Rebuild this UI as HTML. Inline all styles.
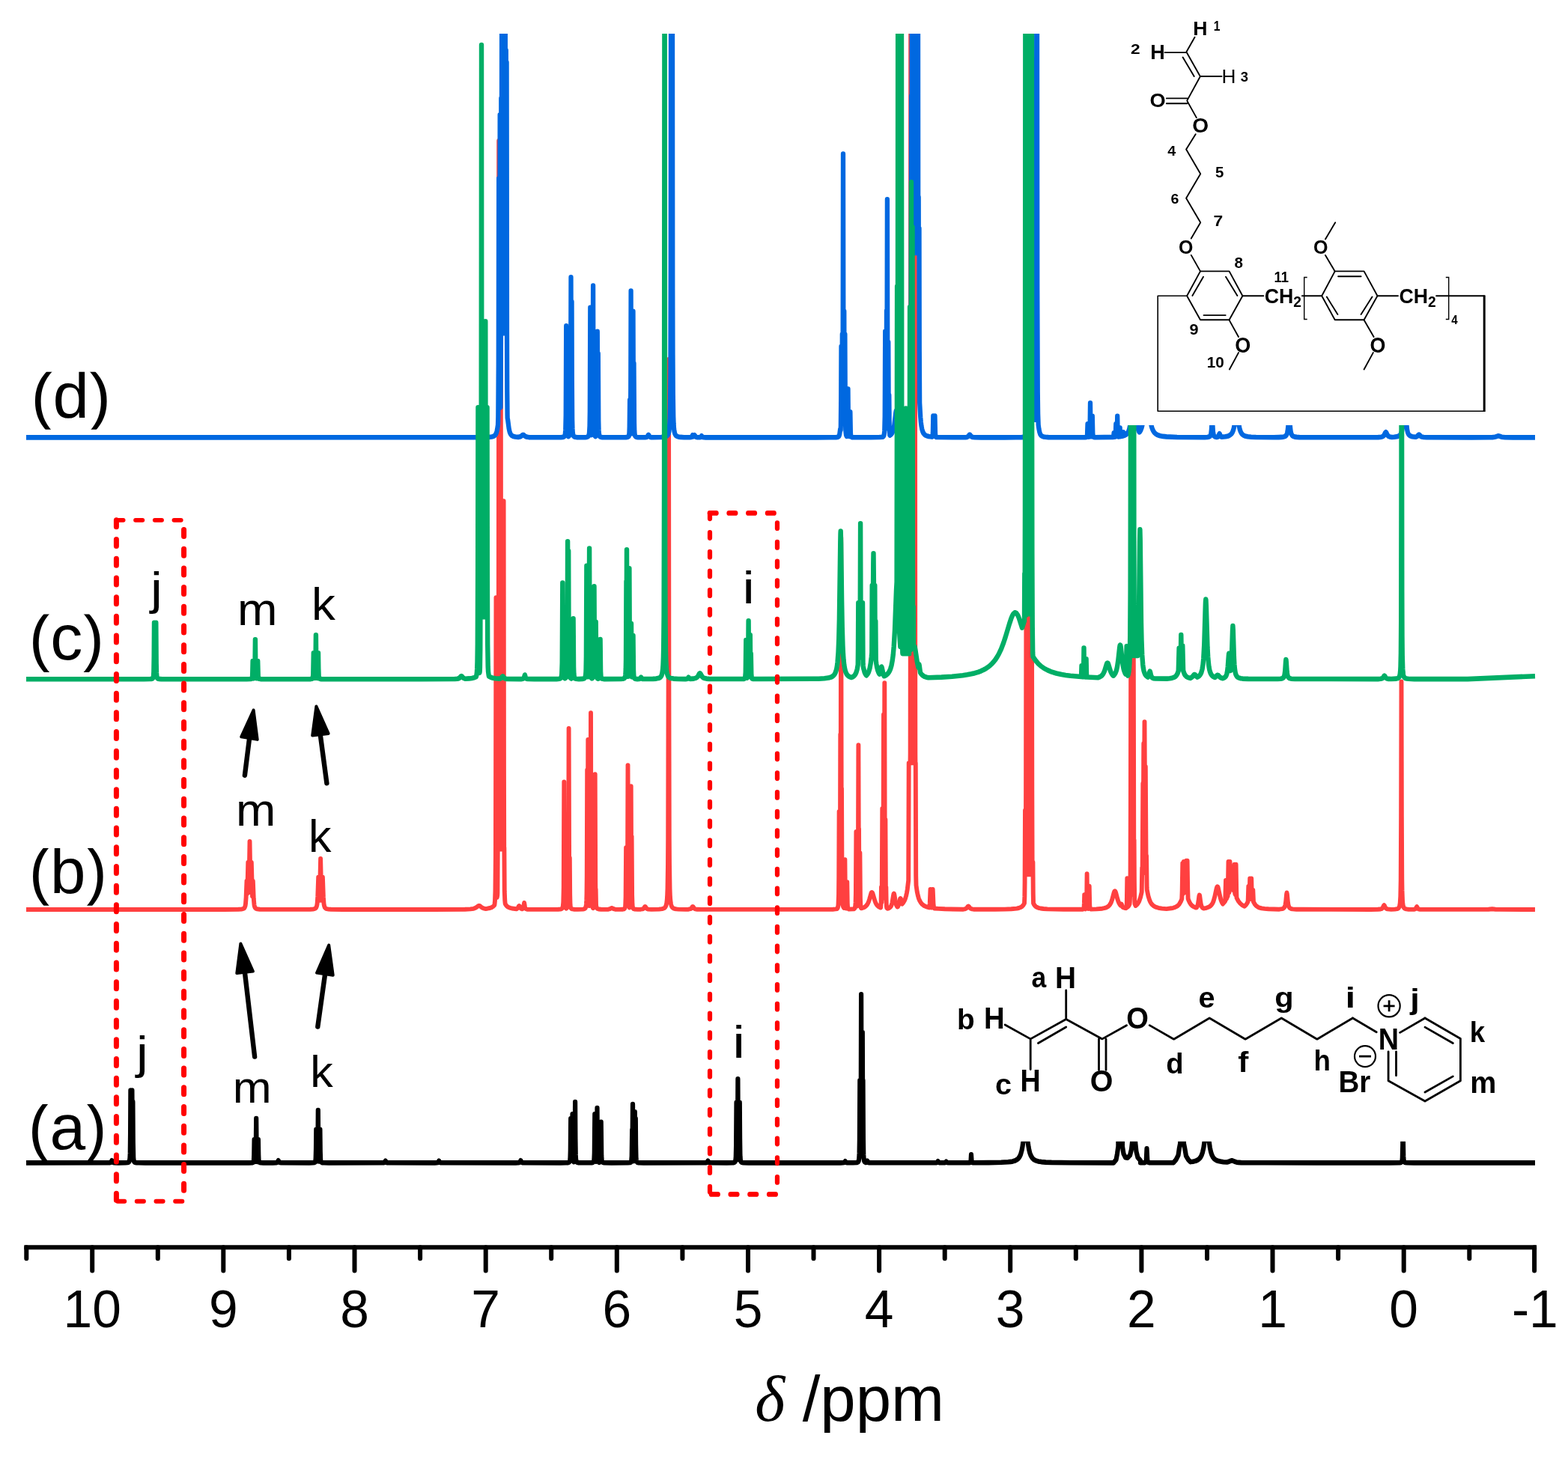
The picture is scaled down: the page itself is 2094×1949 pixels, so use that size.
<!DOCTYPE html><html><head><meta charset="utf-8"><title>NMR spectra</title><style>html,body{margin:0;padding:0;background:#fff}svg{display:block}text{font-family:"Liberation Sans",Arial,sans-serif;fill:#000}.b{font-weight:bold}.s{font-family:"Liberation Serif","Times New Roman",serif;font-style:italic}</style></head><body>
<svg width="2094" height="1949" viewBox="0 0 2094 1949">
<rect width="2094" height="1949" fill="#fff"/>
<defs><clipPath id="plot"><rect x="0" y="45.0" width="2094" height="1600"/></clipPath></defs>
<g clip-path="url(#plot)">
<path d="M37.23 1553.4L153.72 1553.3L156.12 1553.2L157.34 1552.8L157.98 1552.1L158.94 1550.3L160.21 1552.5L161.01 1553L162.23 1553.2L168.09 1553.4L178.19 1553.3L181.12 1553L182.71 1552.5L183.51 1551.8L184.2 1549.7L184.57 1546.5L184.84 1540.9L185.21 1513.7L185.53 1456.5L185.96 1526.2L186.22 1540.9L186.6 1547.7L186.97 1540.9L187.23 1526.2L187.66 1456.5L188.19 1534L188.72 1471.9L189.1 1525.9L189.57 1546.1L189.89 1549.4L190.43 1551.5L190.85 1552.1L191.38 1552.6L192.29 1552.9L193.35 1553.1L197.07 1553.3L206.38 1553.4L320.21 1553.4L353.72 1553.4L358.51 1553.1L359.31 1552.8L359.95 1552.2L360.37 1550.9L360.59 1549.4L360.9 1542.9L361.28 1522.3L361.7 1544.7L361.97 1549.4L362.45 1551.8L362.87 1550.5L363.19 1548.1L363.51 1541.5L364.04 1494.1L364.57 1541.5L364.89 1548.1L365.16 1550.2L365.69 1551.9L366.17 1549.9L366.49 1544.7L366.91 1522.3L367.29 1542.9L367.55 1548.8L368.09 1551.9L368.51 1552.6L369.15 1553L370.74 1553.3L374.2 1553.4L387.5 1553.4L392.23 1553.2L393.35 1553L394.15 1552.5L395.43 1550.3L396.38 1552.1L396.81 1552.6L397.87 1553.1L399.47 1553.3L439.36 1553.4L444.41 1553.3L446.54 1553L447.34 1552.6L447.93 1551.7L448.19 1550.8L448.56 1547.6L448.94 1535.1L449.26 1508.7L449.79 1544.5L450 1548.3L450.43 1551.2L450.8 1549.6L451.06 1547.1L451.49 1533.6L451.91 1483L452.34 1533.6L452.77 1547.1L453.09 1549.9L453.46 1551.4L453.83 1549.4L454.04 1546.8L454.36 1535.1L454.68 1508.7L455.05 1538.3L455.37 1547.6L455.74 1550.8L456.12 1551.9L456.81 1552.7L457.87 1553.1L460.64 1553.3L467.02 1553.4L542.55 1553.3L544.95 1553.2L546.01 1552.9L546.7 1552.3L547.66 1550.8L548.62 1552.3L549.2 1552.9L550.27 1553.2L552.13 1553.3L617.55 1553.4L620.43 1553.2L621.81 1553L622.61 1552.4L623.62 1550.8L624.57 1552.3L625.27 1552.9L626.33 1553.2L628.72 1553.3L732.45 1553.4L736.17 1553.3L737.77 1553L738.3 1552.7L738.83 1552.1L739.79 1550.3L740.74 1552.1L741.38 1552.8L742.34 1553.1L744.15 1553.3L796.28 1553.4L803.72 1553.3L806.91 1553.1L808.51 1552.6L809.26 1551.8L809.79 1549.9L810.11 1546.7L810.43 1536.8L810.85 1494.2L811.38 1541.6L811.54 1545.8L811.97 1550.2L812.18 1549.9L812.45 1547.6L812.87 1535.1L813.3 1488.2L813.62 1526.7L813.99 1545L814.36 1549.6L815 1551.8L815.11 1552L815.53 1551.2L816.06 1548.6L816.44 1542.9L816.7 1530.6L817.13 1472.1L817.45 1520.1L817.82 1542.9L818.09 1547.6L818.46 1550.3L819.15 1552L819.68 1552.5L820.32 1552.8L822.07 1553.2L825.27 1553.3L839.36 1553.3L841.22 1553.1L842.29 1552.8L842.87 1552.4L843.4 1551.6L843.88 1549.9L844.15 1547.6L844.47 1540.4L845 1488.2L845.53 1540.4L846.01 1549.2L846.54 1551.5L846.6 1551.6L846.81 1551.4L847.34 1549.1L847.55 1546.9L847.87 1538.7L848.4 1480.1L848.94 1538.7L849.2 1546.1L849.47 1549.1L849.73 1550.6L850.27 1551.9L850.74 1552.5L851.33 1552.8L851.86 1552.5L852.34 1551.9L852.87 1550.2L853.19 1547.2L853.51 1538.1L853.94 1498.8L854.52 1544.1L855 1550.2L855.32 1551.5L855.85 1552.4L856.91 1553L858.51 1553.2L868.62 1553.4L892.02 1553.3L895.21 1553L896.28 1552.5L896.76 1551.7L897.07 1550.5L897.55 1544.6L898.09 1509.3L898.4 1535.3L898.94 1475.1L899.47 1537.7L899.79 1546.4L900.21 1550.1L900.53 1551L901.06 1547.3L901.38 1539.8L901.91 1485.2L902.45 1539.8L902.98 1494.2L903.3 1529.1L903.67 1545.8L903.99 1549.6L904.26 1550.9L904.79 1552.1L905.59 1552.8L906.65 1553.1L907.98 1553.2L914.36 1553.4L1000.27 1553.3L1002.66 1553.2L1003.99 1553L1004.79 1552.3L1005.74 1550.8L1006.65 1552.3L1007.18 1552.8L1007.98 1553.1L1009.31 1553.3L1032.18 1553.4L1041.49 1553.2L1043.35 1552.7L1043.88 1552.4L1044.41 1551.8L1045.11 1549.4L1045.48 1545.4L1045.85 1530.8L1046.28 1472.9L1046.7 1530.8L1046.97 1543L1047.13 1546.2L1047.23 1546.8L1047.34 1545.4L1047.66 1536.8L1047.87 1521.9L1048.3 1441.4L1048.67 1515.6L1049.15 1543.4L1049.47 1547.9L1049.63 1549.1L1049.73 1549.1L1050.27 1539.6L1050.85 1472.9L1051.17 1520.4L1051.49 1541.5L1051.7 1546.2L1052.13 1550.1L1052.66 1551.7L1053.46 1552.6L1054.52 1553L1056.12 1553.2L1063.56 1553.4L1194.15 1553.4L1197.34 1553.3L1198.94 1553.1L1199.73 1552.7L1200.85 1551.3L1202.13 1552.8L1203.72 1553.2L1211.7 1553.3L1217.29 1553L1218.19 1552.7L1218.94 1552.3L1219.47 1551.7L1219.95 1550.6L1220.48 1547.5L1220.85 1540.9L1221.17 1522.5L1221.6 1443.3L1222.07 1527.4L1222.34 1540.9L1222.61 1535.5L1223.09 1490.2L1223.51 1328.3L1223.94 1490.2L1224.2 1524.4L1224.47 1537.3L1224.89 1504.4L1225.32 1379L1225.74 1504.4L1226.06 1443.3L1226.49 1522.5L1226.86 1542.4L1227.13 1546.9L1227.77 1550.8L1228.19 1551.7L1228.72 1552.3L1230.05 1552.9L1230.59 1552.9L1231.12 1552.5L1232.23 1550.8L1233.19 1552.3L1233.78 1552.9L1234.84 1553.2L1236.7 1553.3L1327.66 1553.3L1329.79 1553.2L1330.96 1553L1331.6 1552.5L1332.55 1551.3L1333.51 1552.5L1334.04 1552.9L1334.84 1553.2L1336.44 1553.3L1339.89 1553.3L1342.13 1553.2L1343.09 1552.8L1344.15 1551.8L1345.48 1553L1347.61 1553.3L1376.6 1553.3L1378.19 1553L1378.72 1552.5L1378.99 1551.9L1379.4 1548.9L1379.79 1542.4L1380.43 1551.2L1380.62 1552L1381.06 1552.8L1382.18 1553.2L1404.52 1553.1L1422.34 1552.8L1432.18 1552.3L1435.9 1551.9L1438.83 1551.4L1440.96 1550.8L1442.82 1550.1L1444.41 1549.3L1446.01 1548.2L1447.23 1546.9L1448.4 1545.4L1449.47 1543.4L1450.27 1541.4L1451.6 1536.9L1452.66 1531.7L1453.72 1524.5L1455.85 1507.1L1456.38 1504.3L1456.65 1503.6L1456.91 1503.3L1457.18 1503.6L1457.45 1504.3L1457.98 1507.1L1460.11 1524.5L1461.17 1531.7L1461.97 1535.8L1463.03 1539.9L1464.63 1543.9L1466.49 1546.8L1468.62 1548.8L1469.95 1549.6L1471.54 1550.4L1475 1551.4L1479.52 1552.1L1485.64 1552.6L1493.88 1552.9L1521.01 1553.2L1581.89 1553.4L1585.64 1549.3L1587.23 1541.3L1588.72 1531.3L1588.74 1498.3L1594.57 1498.3L1594.6 1531.4L1596.28 1541.3L1598.94 1546.3L1601.91 1546.8L1605.32 1543.3L1607.45 1535.3L1608.62 1525.3L1608.64 1498.3L1612.87 1498.3L1612.89 1525.5L1614.36 1538.3L1616.49 1546.3L1620.21 1550.3L1620.23 1553.3L1623.94 1553.3L1626.06 1553.1L1627.13 1552.7L1627.89 1551.7L1628.19 1550.8L1628.57 1548.1L1629.26 1534.4L1630.05 1549.2L1630.62 1551.7L1631.12 1552.5L1631.65 1552.8L1632.71 1553.1L1634.84 1553.3L1667.04 1553.1L1667.29 1553L1670.74 1549.3L1673.94 1543.3L1675.32 1534.3L1676.81 1527.3L1676.83 1498.3L1681.81 1498.3L1681.83 1527.4L1683.3 1534.3L1685.11 1544.3L1688.3 1549.3L1691.22 1552L1691.47 1552.1L1694.68 1551.7L1697.34 1551.1L1699.57 1550.5L1701.6 1549.5L1703.19 1548.5L1704.79 1546.9L1705.85 1545.5L1707.02 1543.4L1708.51 1539.3L1710 1532.9L1711.17 1525.3L1713.35 1507.4L1713.83 1504.7L1714.1 1503.8L1714.47 1503.3L1714.89 1503.9L1715.59 1507.4L1717.55 1523.7L1718.88 1532.6L1720.21 1538.6L1721.54 1542.5L1722.34 1544.2L1723.4 1546L1724.73 1547.6L1726.06 1548.7L1727.66 1549.7L1729.36 1550.5L1731.38 1551.1L1733.78 1551.6L1738.03 1552.2L1743.09 1552.5L1745.21 1552L1748.72 1550.6L1750 1550.3L1751.06 1550.5L1754.26 1551.8L1756.38 1552.4L1759.31 1552.9L1763.3 1553.1L1797.07 1553.3L1869.95 1553.4L1974.47 1553.4L1988.3 1553.2L1990.16 1552.9L1991.22 1552.1L1991.86 1550.7L1992.34 1547.2L1992.82 1529.7L1993.19 1483.3L1993.51 1524.7L1993.88 1544.4L1994.15 1548.4L1994.52 1550.7L1995.21 1552.2L1996.28 1552.9L1999.47 1553.3L2008.51 1553.4L2180.85 1553.4" transform="scale(0.94 1)" fill="none" stroke="#000000" stroke-width="6.6" stroke-linejoin="round" stroke-linecap="butt"/>
<path d="M35 1215L299.75 1215L318.25 1214.8L322.25 1214.6L324.25 1214.2L325.75 1213.5L326.75 1212.3L327.5 1210.3L328 1207.3L328.6 1199.3L329.5 1176.7L330.25 1193.7L331.3 1152L332.25 1190.8L332.6 1177.6L333.5 1123.9L334.4 1177.6L334.8 1192.2L335.8 1152L337 1197.1L337.57 1179.8L337.8 1176.7L338.75 1200.3L339.5 1208.8L340 1211L340.75 1212.7L341.75 1213.7L343.25 1214.3L347 1214.7L355.75 1214.9L408.5 1214.9L414.25 1214.8L417.7 1214.6L419.75 1214.2L421.25 1213.5L422.1 1212.6L422.8 1211.1L423.4 1208.6L423.75 1205.9L424.3 1197.2L425.2 1171.7L426.1 1197.2L426.4 1202.8L426.5 1202.8L427.15 1188.9L428.1 1147L429 1187.2L429.7 1202.8L430.9 1171.7L431.85 1198.4L432.5 1207.2L433 1210.1L433.75 1212.2L434.75 1213.4L435.5 1213.9L436.5 1214.2L438.75 1214.6L442 1214.8L457.75 1215L579.5 1215L621 1214.8L628.25 1214.4L632.5 1213.8L635 1212.8L636.25 1212L638.5 1210.3L639.7 1209.9L640.75 1210.2L643.75 1212.5L645.75 1213.4L648 1214L650.75 1213.7L654.25 1213L656.75 1212.1L658.75 1210.8L660.25 1209.2L660.5 1208.3L661 1203L661.45 1190.5L661.9 1143.6L662.45 798.2L662.85 1097.9L663.2 1173.3L663.7 1199L664.25 1195.9L664.4 1192.6L664.88 1103.7L665.05 1132.6L665.1 1134.5L665.3 1134.5L665.4 1123.6L665.8 926.5L666.2 188L666.6 926.5L667 1123.6L667.15 1134.5L667.75 1134.5L668.15 1009.6L668.65 188L669.05 926.5L669.5 1133.2L669.6 1134.5L671.95 1134.5L672 1134.3L672.25 1030.6L672.6 669.2L672.95 1030.6L673.2 1134.3L673.3 1134.5L673.35 1132L673.4 1135.1L673.75 1190.4L674.25 1202.8L674.6 1206.6L674.85 1207.7L675.85 1209.3L677 1210.6L678.25 1211.5L679.75 1212.3L681.5 1212.9L683.75 1213.5L689.75 1214.2L690.5 1213.9L691.25 1213.2L692 1212.1L692.85 1210.4L693.3 1210L693.75 1210.4L695 1212.8L695.7 1213.6L697.25 1214.4L698 1214L698.6 1213.2L699 1212.2L700.1 1206L701 1211.3L701.5 1213L702 1213.8L702.5 1214.2L704 1214.7L728.5 1214.9L745.5 1214.8L748 1214.6L749.5 1214.3L750.5 1213.7L751.25 1212.5L751.8 1210.4L752.3 1205L752.75 1185.8L753.3 1044.4L753.7 1167.1L754 1195.7L754.3 1205L754.6 1208.9L755 1211.4L755.6 1213L756.25 1213.7L756.8 1213.1L757.3 1212.2L758 1209.2L758.5 1203.1L759 1179.2L759.25 1133.2L759.6 972.9L760.15 1173.5L760.4 1193.5L760.8 1145.7L761.2 1195.5L761.45 1206.1L761.75 1210.5L762 1212.1L762.3 1212.9L763.25 1213.9L764.6 1214.4L767 1214.7L771.5 1214.9L778.5 1214.6L780.5 1214.2L781.2 1213.7L781.75 1213.1L782.5 1211.1L782.95 1207.8L783.25 1202.9L783.5 1193.9L783.75 1171L784.2 1028.5L784.5 1138.5L784.75 1176.1L785.3 988L785.8 1169.6L786.25 1200.3L786.7 1208L787 1210.2L787.2 1210L787.75 1204.9L788 1199.5L788.3 1185.3L788.5 1162.5L789 952.2L789.3 1107.3L789.65 1181.1L790 1199.5L790.25 1204.9L790.7 1209.4L791.25 1211.8L791.75 1212.8L792 1213.2L792.2 1213.2L792.75 1212.1L793.2 1210.1L793.7 1204.4L794 1194.6L794.35 1153.9L794.7 1034.2L795.2 1178.8L795.4 1194.6L795.62 1187.8L796 1207.3L796.1 1209.4L796.4 1211.2L797 1212.9L798 1214L799.6 1214.5L802.5 1214.8L807 1214.9L812.5 1214.7L814.5 1214.2L816.4 1213.1L817 1213L817.6 1213.1L819.5 1214.2L821.5 1214.7L826.5 1214.9L831 1214.8L833.25 1214.4L834 1213.8L834.5 1213L835 1210.9L835.25 1208.4L835.6 1198.5L836.1 1132.2L836.5 1191.8L836.75 1204.3L837 1209.1L837.1 1209L837.5 1203.7L837.7 1197.8L838 1176.4L838.5 1022.1L839 1176.4L839.25 1195.7L839.5 1203.7L839.75 1207.6L840.25 1211.1L840.7 1212.5L841.2 1210.5L841.5 1208.1L841.9 1200.3L842.1 1190.6L842.35 1159.3L842.7 1050.2L843.2 1182L843.6 1117.2L844.1 1195.5L844.5 1208L844.75 1210.6L845.1 1212.4L845.5 1213.3L846 1214L846.6 1214.3L847.25 1214.5L851.75 1214.9L855.75 1214.7L857.75 1214.4L859.1 1213.9L860 1213L861.05 1211.3L861.5 1211L861.95 1211.3L863 1213L863.75 1213.8L864.5 1214.2L865.75 1214.6L870 1214.9L880 1214.6L884.25 1214.1L886.75 1213.3L887.75 1212.6L888.5 1211.7L889.5 1209.6L890.25 1206.4L890.75 1202.2L891.2 1195.1L891.5 1186.7L892 1154.3L892.22 1120.3L892.64 913.8L893 480L893.36 913.8L893.78 1120.3L894 1154.3L894.5 1186.7L894.8 1195.1L895.25 1202.2L896 1207.7L896.75 1210.3L897.5 1211.7L898.5 1212.8L899.75 1213.6L901.1 1214L903.25 1214.4L906 1214.6L915.25 1214.9L919.5 1214.7L922 1214.2L923.25 1213.4L924.65 1211.3L925.1 1211L925.55 1211.3L927 1213.4L927.75 1214L928.5 1214.3L931.25 1214.8L937 1214.9L1106.5 1214.9L1112.25 1214.7L1115.75 1214.4L1117.75 1214L1118.6 1213L1119.1 1211.5L1119.5 1208.6L1120 1195.6L1120.25 1170.7L1120.6 1084L1121.05 1184.1L1121.3 1200.2L1121.6 1188.5L1121.95 1135.9L1122.3 981L1122.6 1119.1L1122.7 1115.6L1123.2 718L1123.75 1129.9L1124 1053.2L1124.5 1182.7L1124.8 1200.6L1125 1205.5L1125.4 1208.7L1126 1211.1L1127 1212.9L1127.5 1210.2L1127.75 1206.4L1128.1 1187.6L1128.4 1148.2L1128.9 1201.6L1129.2 1209.1L1129.65 1212.4L1130.05 1213.5L1130.25 1213L1130.75 1208.7L1131.3 1178.2L1131.75 1206.3L1132 1210.8L1132.4 1213.2L1133 1214.2L1133.75 1214.6L1140.25 1214.3L1141 1213.9L1141.5 1213.2L1142.15 1211L1142.6 1205.7L1142.9 1194.2L1143.4 1110.9L1143.9 1194.2L1144.05 1201.6L1144.4 1208.9L1144.65 1210.6L1145 1208.2L1145.4 1202.1L1145.6 1195.4L1145.9 1171L1146.4 995.2L1146.8 1148.5L1147.03 1107L1147.4 1184.4L1147.75 1204.1L1148.1 1184L1148.4 1139.2L1148.9 1199.8L1149.25 1209L1149.5 1211.3L1149.9 1213L1150 1213.2L1150.25 1213.3L1151 1213.1L1153 1212.5L1154.5 1211.8L1156.4 1210.4L1158 1208.5L1159 1206.8L1160 1204.6L1161 1201.6L1163.25 1193.7L1163.75 1192.5L1164 1192.2L1164.4 1192L1165 1192.5L1165.5 1193.6L1168.25 1203L1169.2 1205.6L1170.25 1207.7L1171.5 1209.4L1173 1210.9L1175.3 1212.3L1176 1212.6L1176.2 1212.3L1176.6 1206.5L1176.97 1185L1177.4 1205.3L1177.75 1191.9L1178.3 1080L1178.7 1177.1L1179 1199.7L1179.35 1181.4L1179.6 1141.8L1180 954.4L1180.3 1108.2L1180.65 1176L1181 1090.9L1181.3 912.2L1181.6 1090.9L1181.95 1176L1182.4 1094.7L1182.9 1190.9L1183.05 1199.5L1183.33 1185L1183.6 1202.6L1183.9 1210.5L1184.25 1212.8L1185.25 1213.7L1186.25 1213.6L1187.75 1212.9L1189 1211.8L1189.8 1210.7L1190.6 1209L1191.4 1206.2L1193.2 1195.3L1193.5 1194L1193.8 1193.5L1194 1193.8L1194.4 1195.3L1195.5 1202.5L1196.4 1207L1197.25 1209.6L1198.25 1211.4L1198.5 1211.5L1199 1211.3L1200 1209.1L1200.75 1206.5L1201.9 1201.2L1202.25 1200.2L1202.5 1200L1202.75 1200.2L1203 1200.8L1204.4 1207.1L1204.5 1207.5L1204.75 1207.7L1206.25 1205.9L1207.75 1203.3L1208.9 1200.6L1210 1197L1211 1192.6L1211.75 1188.2L1213.2 1176.1L1213.7 1019.2L1215.5 1019.2L1215.65 1007.3L1215.9 762.2L1216.2 5L1216.4 5L1216.45 29.7L1216.7 762.2L1217 1019.2L1218.3 1019.2L1218.35 1007.3L1218.6 762.2L1218.9 5L1219.1 5L1219.15 29.7L1219.4 762.2L1219.65 1007.3L1219.7 1019.2L1221 1019.2L1221.3 762.2L1221.55 29.7L1221.6 5L1221.8 5L1222.25 939L1222.35 1007.3L1222.45 1019.2L1222.75 1019.2L1222.78 1023.9L1223.2 1169.5L1223.5 1182.7L1224.75 1191.3L1225.8 1196.2L1227 1200.3L1228.25 1203.3L1229.75 1205.9L1231.75 1208.2L1234.25 1210L1237.25 1211.4L1240.9 1212.4L1241.2 1211.5L1241.5 1209.6L1241.75 1206.7L1242.5 1188L1243.25 1206.7L1243.7 1211L1244.1 1212.6L1244.7 1209.6L1245 1205.9L1245.7 1188L1246.5 1207.4L1247 1211.5L1247.3 1212.6L1247.75 1213.5L1253.75 1213.9L1261.75 1214.3L1285.75 1214.7L1288.25 1214.4L1290 1213.8L1291 1213L1292.6 1210.9L1293.2 1210.5L1293.8 1210.9L1295.5 1213.1L1296.5 1213.8L1298.25 1214.4L1301 1214.7L1328.75 1214.8L1342 1214.6L1350.5 1214.3L1357.75 1213.6L1360.5 1213L1362.5 1212.3L1364.25 1211.4L1365.75 1210.1L1367 1208.5L1368 1206.6L1368.35 1197.9L1368.6 1177.8L1369 1082.5L1369.3 1160.7L1369.4 1168.4L1369.65 1168.4L1369.8 1157.2L1370.1 1054.8L1370.4 824.1L1370.75 1082.9L1371.05 1164.6L1371.2 1168.4L1373.25 1168.4L1373.35 1164.6L1373.7 1054.8L1374 824.1L1374.3 1054.8L1374.65 1164.6L1374.75 1168.4L1377.25 1168.4L1377.35 1164.6L1377.7 1054.8L1378 824.1L1378.3 1054.8L1378.65 1164.6L1378.75 1168.4L1379.2 1168.4L1379.25 1168.2L1379.42 1151.8L1379.75 1193.5L1380.05 1206.7L1380.9 1208.3L1381.9 1209.7L1383 1210.8L1384.4 1211.8L1386.75 1212.8L1389.75 1213.5L1393.5 1214L1398.75 1214.4L1420.25 1214.8L1446 1214.7L1446.6 1214.5L1447 1214.2L1447.4 1213.2L1447.6 1212.1L1447.9 1206.9L1448.2 1195.2L1448.7 1211L1449 1213.2L1449.25 1213.9L1449.6 1214.3L1450.1 1213.7L1450.5 1212.7L1451 1207.9L1451.25 1198.9L1451.6 1167.2L1452.1 1205.5L1452.5 1211.6L1452.85 1213.2L1453.25 1213.9L1453.6 1213.5L1453.9 1212.2L1454.2 1208.8L1454.7 1183.8L1455.25 1209.6L1455.7 1213.2L1456 1213.9L1456.6 1214.5L1457 1214.6L1464.25 1214.4L1472 1213.7L1474.5 1213.2L1476.5 1212.7L1478.25 1211.9L1479.75 1211L1480.9 1210L1482 1208.8L1483.75 1205.7L1485.25 1201.5L1487.75 1192.1L1488.25 1190.9L1488.5 1190.5L1488.9 1190.2L1489.5 1190.8L1490.1 1192.3L1492.25 1200.5L1493.25 1203.7L1494.25 1206.1L1495.5 1208.4L1496.5 1209.6L1497.2 1207.8L1497.5 1207.5L1497.65 1207.6L1499.25 1211.8L1500.75 1212.5L1502.75 1213.1L1503.5 1213.2L1504.05 1213L1504.25 1212.8L1504.5 1211.3L1504.8 1206.7L1505.3 1173.2L1505.7 1203.3L1506 1210.3L1506.2 1211.5L1507.3 1210.1L1508.3 1208.1L1508.5 1207.6L1508.8 1204.6L1509.2 1195.2L1509.6 1165.2L1509.9 1077.1L1510.2 878.6L1510.5 1077.1L1510.85 1171.6L1511.2 1195L1511.6 1193.5L1512 1193L1512.3 1193.3L1512.8 1195L1513 1185.1L1513.4 1120.5L1513.8 878.6L1514.3 1147.7L1514.4 1158.4L1514.6 1122.2L1514.9 1176.9L1515.2 1201.3L1515.5 1207.6L1516.6 1210L1518 1208.8L1519.25 1207.3L1520.3 1205.7L1521.3 1203.8L1523.1 1198.6L1524.7 1191.6L1525.25 1159.2L1525.6 1167.5L1526.35 1047.6L1526.4 1046L1526.5 1052.5L1526.8 1104L1527.3 993L1527.8 1104L1528.5 964.1L1529.25 1117.1L1529.8 1024L1530.6 1161.3L1530.7 1162L1530.9 1145.7L1531 1143L1531.05 1143.7L1531.6 1185.5L1531.75 1188.7L1533.5 1197.1L1535.3 1202.8L1536.4 1205.2L1537.5 1207L1539 1208.8L1540.5 1210.1L1543.25 1211.6L1547 1212.8L1551.75 1213.6L1557.75 1214.1L1564.25 1213.3L1566.75 1212.8L1568.9 1212.1L1570.75 1211.3L1572.25 1210.4L1573.75 1209.1L1575 1207.6L1576.75 1204.6L1578.3 1200.9L1578.7 1189.6L1579.3 1153L1580 1194L1580.2 1188.7L1580.8 1151L1581.5 1191.9L1581.9 1191.3L1582.5 1158L1583.1 1191.3L1583.5 1191.9L1584.2 1149.7L1584.8 1188.2L1585 1188.2L1585.6 1149.7L1586.2 1188.2L1586.6 1200.6L1587.6 1203.2L1588.75 1205.6L1589.8 1207.3L1591 1208.8L1592.25 1210L1593.8 1211.1L1595.5 1211.9L1597.5 1212.6L1597.75 1212.6L1597.9 1212.5L1598.75 1211.2L1599.75 1208.2L1600.5 1203.8L1601.35 1197.1L1601.8 1195.5L1602 1195.8L1602.25 1197.1L1603.25 1204.9L1604 1208.8L1604.8 1211.1L1606 1212.8L1607.25 1213.6L1611.25 1212.8L1614.5 1211.6L1615.75 1210.8L1617 1209.7L1618 1208.6L1619 1207.1L1620 1205.1L1620.75 1203.1L1622.25 1197.8L1624.6 1186.8L1625.25 1184.8L1625.75 1184.3L1626.25 1184.6L1626.8 1186.1L1629.75 1199.4L1630.75 1202.9L1631.8 1205.5L1633 1207.6L1635.4 1204.9L1636.2 1203.7L1636.25 1203L1637 1176L1637.75 1201L1639.7 1196.5L1640.5 1151L1641.2 1192.6L1641.8 1191L1642.5 1151L1643.1 1187.9L1644.3 1186.2L1645 1186L1645.5 1186.1L1646 1186.5L1646.6 1187.4L1647.9 1190.2L1648.5 1154.8L1649.2 1193.6L1649.8 1195.2L1650 1190.3L1650.6 1154.8L1651.2 1190.3L1651.5 1199.4L1653.6 1203.4L1656 1206.6L1658.6 1208.9L1661.75 1210.7L1662 1210.6L1662.75 1210L1664.2 1208.4L1665.3 1206.8L1666.5 1204.6L1666.7 1202.3L1667.3 1184L1667.9 1201.8L1668.5 1200.6L1669.2 1173.5L1669.8 1198L1669.9 1199L1670.5 1199L1671.2 1173.5L1671.8 1198L1672 1200.8L1672.75 1202.3L1672.8 1202L1673.3 1189L1674 1204.8L1676 1208.2L1677.2 1209.6L1678.3 1210.6L1679.75 1211.5L1681.2 1212.3L1685 1213.4L1688.75 1213.9L1694 1214.3L1708.5 1214.7L1712 1214.2L1714 1213.4L1714.75 1212.7L1715.5 1211.7L1716 1210.5L1716.5 1208.7L1717.25 1203.7L1718.12 1194.3L1718.5 1192.5L1718.88 1194.3L1720 1205.8L1720.5 1208.7L1721 1210.5L1721.75 1212.1L1722.75 1213.2L1724.25 1214L1726.25 1214.4L1731.25 1214.8L1738.5 1214.8L1830.5 1215L1840 1214.8L1843.5 1214.5L1844.75 1214.2L1845.5 1213.8L1846.6 1212.6L1847.95 1209.6L1848.4 1209.2L1848.85 1209.6L1849.75 1211.8L1850.5 1213L1851.5 1213.9L1853 1214.4L1857.75 1214.9L1862.75 1214.6L1865.75 1214.2L1866.75 1213.8L1867.5 1213.3L1868.25 1212.4L1869 1210.7L1869.75 1206.3L1870.3 1197.1L1870.72 1175.8L1871.14 1090.2L1871.5 910.5L1871.86 1090.2L1872.25 1173L1872.5 1189.9L1873 1203.3L1873.3 1206.8L1873.75 1209.7L1874.25 1211.4L1874.75 1212.4L1875.25 1213.1L1876 1213.7L1878 1214.4L1881 1214.7L1886.5 1214.9L1888.75 1214.7L1890.1 1214.2L1890.9 1213.4L1891.8 1211.5L1892.1 1211.2L1892.4 1211.5L1893.3 1213.4L1894.25 1214.3L1895.75 1214.7L1898.75 1214.9L1981 1214.9L1987.75 1214.8L1992.8 1214.2L1997.25 1214.7L2002.25 1214.9L2050 1215" fill="none" stroke="#FF4040" stroke-width="5.9" stroke-linejoin="round" stroke-linecap="butt"/>
<path d="M36.84 584.4L665.53 584.3L680.79 584.2L688.42 583.8L691.05 583.5L692.89 583.1L694.32 582.5L695.58 581.7L696.58 580.6L697.63 578.6L698.42 576.2L699.11 573L700 567.5L700.32 556.8L700.79 487.2L701.21 238.3L701.58 467.5L701.95 545.2L702.37 463.3L702.79 153.3L703.21 463.3L703.42 520.6L703.68 544.1L704.11 457.1L704.53 131.3L704.95 439.3L705.37 5L705.79 5L706 308.8L706.26 445.3L707.21 445.3L707.47 308.8L707.68 5L708.11 5L708.53 439.3L708.58 445.3L709.42 445.3L709.68 308.8L709.89 5L710.32 5L710.53 308.8L710.79 445.3L710.95 439.1L711.05 372.5L711.37 67.3L711.79 439.1L712.21 83.3L712.63 443.6L712.89 519.8L713.26 554.9L713.37 558.6L713.79 560.5L715.37 572L716.32 576.4L717.11 578.6L718.16 580.5L719.47 581.8L721.05 582.7L724.21 583.5L728.68 583.9L730.53 583.6L731.84 583.1L732.89 582.5L734.58 581.1L735.37 580.8L736.05 581L737.89 582.5L739.21 583.3L741.05 583.8L743.42 584.1L753.95 584.3L782.11 584.3L788.42 584.2L791.32 583.9L792.89 583.3L793.42 582.9L793.89 582.1L794.47 580.1L795 574.7L795.47 554.6L796 435.4L796.42 542.5L796.84 571.1L797.32 578.7L797.89 581.6L798.42 582.7L798.95 583.2L799.74 582.6L800.53 581.1L801.26 576.8L801.63 570.5L802.11 541.6L802.63 370.4L803.21 547.8L803.74 403L804.05 510.1L804.42 561L804.74 572.7L805 576.9L805.53 580.6L806.32 582.5L806.89 583.1L807.89 583.7L810.53 584.1L817.89 584.3L822.37 584.2L824.74 583.9L826.32 583.4L827.37 582.4L827.89 581.1L828.42 578.2L828.95 569L829.26 549.7L829.79 410.8L830.11 513.3L830.47 562L830.79 573.2L831.11 577.7L831.68 581.1L832.21 578.9L832.63 574.4L832.89 568.2L833.26 543.8L833.79 381.5L834.11 501.2L834.47 558.3L834.74 569.9L835.05 576L835.53 579.8L836.32 582.2L837.11 583.1L837.68 582.2L838.21 580.6L838.74 576.1L839.05 568.4L839.37 544.6L839.79 442.8L840.32 556.1L840.84 472.3L841.37 562L841.68 574.4L841.89 577.8L842.42 581.4L843.16 583L843.68 583.4L844.47 583.8L846.58 584.2L851.05 584.3L870.79 584.3L879.74 584.1L881.84 583.9L883.16 583.5L883.79 583L884.21 581.9L884.68 577.9L884.95 570.3L885.37 534.3L885.79 570.3L885.89 572.9L886.26 559.2L886.58 518.3L886.95 388.6L887.47 545.2L887.89 570.4L888.16 575.6L888.53 579.1L888.95 574.5L889.16 569.4L889.47 550.7L890 415.7L890.53 550.7L890.63 556.6L890.68 550.9L891.05 485.3L891.58 564.6L891.89 575.6L892.21 579.5L892.63 581.7L893.16 582.9L893.95 583.6L895 583.9L897.11 584.2L903.68 584.3L906.84 584.2L908.68 584L910 583.3L910.53 582.6L911.32 581L911.58 580.8L911.84 581L912.63 582.6L913.16 583.3L913.95 583.8L914.95 584.1L917.89 584.3L929.47 584L933.95 583.6L935.53 583.3L936.84 582.8L937.89 582.1L938.68 581.3L939.74 579.3L940.42 576.6L940.95 572.9L941.68 561L942.16 540.1L942.53 497.1L942.89 353L943.16 5L943.58 5L943.79 308.8L944.21 497.1L944.63 308.8L944.84 5L945.26 5L945.58 388.2L945.79 473.4L946.11 526.7L946.58 556.1L946.95 565.8L947.37 571.9L947.89 576.1L948.68 579.3L949.74 581.3L950.53 582.1L951.32 582.7L953.42 583.4L956.58 583.9L961.58 584.2L969.74 584.3L971.16 584.1L972.11 583.8L972.74 583.1L973.68 581.3L974.63 583.1L974.74 583.3L974.95 583.2L976 581.6L976.32 581.3L976.63 581.6L977.58 583.1L978.42 583.8L979.74 584.1L982.37 584.3L983.79 584.2L984.74 584L985.37 583.5L986.32 582.3L987.37 583.6L988.16 584.1L989.47 584.3L992.11 584.4L1147.37 584.4L1167.37 584.3L1175.53 584.1L1177.11 584L1178.11 583.7L1178.95 583.2L1179.47 582.6L1180.26 580.1L1181.18 573.4L1181.26 573.3L1181.37 573.5L1181.58 574.8L1181.74 574.7L1181.95 568.7L1182.32 534.6L1182.63 462.8L1182.95 534.6L1183.32 566.6L1183.68 527.9L1184 446.6L1184.47 546.5L1184.84 478L1185.26 205.6L1185.68 478L1186.05 546.5L1186.32 515.3L1186.63 415.8L1186.95 515.3L1187.26 556.8L1187.79 446.6L1188.32 556.8L1188.68 573.4L1188.95 577.6L1189.47 581.1L1190.26 582.9L1190.53 582.6L1191.05 580.6L1191.42 576L1191.79 557.8L1192.11 519.6L1192.63 571.4L1193.05 579.8L1193.42 581.9L1193.84 582.9L1194.32 581.4L1194.63 577.6L1195.16 550.4L1195.68 577.6L1196.05 581.7L1196.47 583.1L1197.05 583.8L1197.79 584.1L1198.95 584.2L1203.42 584.3L1224.47 584.2L1236.32 584L1240.53 583.8L1241.58 583.2L1242.37 582.1L1243.05 579.3L1243.42 575.2L1243.89 556L1244.42 442.5L1244.84 544.5L1245.05 563.4L1245.32 572.6L1245.68 559.3L1245.89 536.8L1246.32 415L1246.74 520.8L1247.26 266.4L1247.68 495.1L1248.16 559.1L1248.42 532.2L1248.74 457.1L1249.11 541.4L1249.37 565.6L1249.79 527.7L1250.21 568.5L1250.47 577.1L1250.84 581.1L1251.05 581.5L1251.58 581.2L1252.63 580.3L1253.68 579.1L1254.74 577.2L1255.79 574.3L1257.11 568.1L1259.21 551.3L1259.74 548.7L1260 548.3L1260.26 548.7L1260.79 551.3L1262.37 564.5L1263.42 571L1264.47 575.1L1265.79 578.2L1267.11 580L1268.68 581.4L1270.79 582.4L1273.42 583.1L1274.47 583.2L1275.89 582.6L1276.95 581.9L1277.89 580.6L1278.53 579.1L1279.05 577.2L1279.74 569.2L1280.11 557.4L1280.47 525.2L1280.79 429.2L1281.14 127.8L1281.42 337.9L1281.58 337.9L1281.68 308.8L1281.89 5L1282.32 5L1282.63 337.9L1285.79 337.9L1286.11 5L1286.53 5L1286.84 337.9L1289.79 337.9L1290.11 5L1290.53 5L1290.79 337.9L1291.11 337.9L1291.26 263.3L1291.42 337.9L1292 337.9L1292.13 305.1L1292.42 469.2L1292.79 538.1L1293.95 557.2L1294.53 563.6L1295.26 569.2L1296.05 573.2L1297.11 576.6L1298.42 579.1L1300 580.8L1301.05 581.5L1302.37 582.1L1305.53 583L1310.26 583.6L1310.79 582.9L1311.21 580.7L1311.47 576.3L1311.89 555.6L1312.32 576.3L1312.74 581.8L1312.95 582.7L1313.16 582.7L1313.21 582.5L1313.68 578.6L1314.21 555.6L1314.74 578.6L1315 581.5L1315.26 582.7L1315.79 583.6L1316.32 584L1339.47 584.3L1352.11 584.3L1357.11 584.2L1359.21 583.9L1360.63 583.3L1361.58 582.5L1362.68 580.9L1363.16 580.6L1363.63 580.9L1365 582.8L1366.05 583.5L1367.63 584L1370.26 584.2L1379.47 584.4L1412.11 584.4L1428.16 584.3L1436.32 584.1L1441.58 583.6L1443.16 583.2L1444.47 582.5L1445.53 581.7L1446.32 580.6L1447.35 577.7L1447.37 560.6L1448.68 560.6L1448.95 557.9L1449.47 526.7L1449.68 497.1L1450.11 308.8L1450.32 5L1450.74 5L1451.05 388.2L1451.32 486.3L1451.58 526.7L1451.84 546.7L1452.11 557.9L1452.37 560.6L1456 560.6L1456.37 546.7L1456.63 526.7L1457 458L1457.26 308.8L1457.47 5L1457.89 5L1458.21 388.2L1458.71 523.9L1459.13 553L1459.68 567.7L1460.53 573.4L1461.32 577.2L1462.37 580.1L1463.42 581.6L1464.84 582.7L1466.84 583.4L1469.47 583.8L1473.68 584.1L1492.89 584.3L1525.53 584.3L1526.84 584.1L1527.37 583.9L1527.89 583.3L1528.16 582.6L1528.42 580.8L1528.95 566.3L1529.47 580.8L1529.79 582.8L1530.26 583.7L1530.53 583.7L1531.05 583.2L1531.58 581.7L1531.84 579.8L1532.11 575.2L1532.63 538.4L1533.16 575.2L1533.47 580.3L1533.68 581.7L1534.26 583.2L1534.74 581.8L1535.05 578.7L1535.58 555.7L1536.11 578.7L1536.58 582.5L1536.89 583.3L1537.63 583.9L1539.21 584.2L1565.05 583.9L1565.47 582.7L1565.89 578.3L1566.42 583.2L1566.74 583.8L1567.37 583.8L1567.89 582.8L1568.21 580.8L1568.74 566.3L1569.16 579.3L1569.42 582.1L1569.58 582.8L1569.68 582.7L1570.05 580.7L1570.32 576.3L1570.74 555.7L1571.26 578.7L1571.58 581.8L1572.05 583.3L1572.32 583.4L1573.58 583.3L1573.74 582.8L1574.11 579.2L1574.42 571.6L1574.84 580.8L1575.26 583.1L1578.53 582.4L1578.95 577.3L1579.37 582.2L1581.05 581.6L1582.42 580.9L1582.63 579.3L1582.84 580.6L1584.21 579.5L1585.26 578.2L1586.32 576.4L1587.37 573.7L1588.68 568L1589.47 562.1L1590 556.3L1590.79 542.9L1591.84 507.7L1593.21 418.3L1593.42 408.2L1593.68 403.3L1593.95 408.2L1594.16 418.3L1595.53 507.7L1596.58 542.9L1597.37 556.3L1598.42 566.3L1599.74 572.9L1600.53 575.2L1601.58 577.4L1601.84 577.4L1602.11 577L1603.42 574.9L1605 571L1606.32 565.8L1607.37 559.4L1608.16 552.8L1608.95 543.9L1611.32 508.1L1611.79 504.1L1612.11 503.3L1612.37 503.9L1612.63 505.5L1613.05 510L1614.74 536.5L1615.89 551.2L1617.11 561.3L1618.42 568.2L1619.21 571L1620.32 573.9L1621.58 576.3L1622.89 578L1624.47 579.4L1626.32 580.6L1628.42 581.5L1631.05 582.2L1635 582.9L1639.74 583.4L1654.74 584L1693.42 584.3L1697.37 584L1699.47 583.6L1700.53 583.1L1701.32 582.3L1701.95 581L1702.42 579.2L1703.05 573.7L1704 558.3L1705.26 577.1L1706.05 581L1706.53 582.1L1707.11 582.8L1708.16 583.5L1709.74 583.9L1710.79 584L1711.84 583.6L1712.89 582.6L1714 579.7L1714.32 579.3L1714.63 579.7L1715.79 582.7L1716.32 583.3L1717.05 583.7L1722.63 583.2L1726.58 582.4L1728.95 581.3L1730.89 579.7L1732.37 577.7L1733.68 574.6L1734.47 571.8L1735.26 567.9L1737.55 551.3L1737.89 549.5L1738.16 548.6L1738.42 548.3L1738.68 548.6L1738.95 549.5L1739.29 551.3L1740.79 562.8L1741.84 569.3L1742.89 573.7L1743.95 576.6L1745.53 579.3L1746.58 580.4L1747.63 581.2L1750.26 582.4L1753.95 583.2L1758.68 583.7L1765.53 584L1790.53 584.3L1797.63 584.1L1801.84 583.9L1804.74 583.5L1806.58 582.8L1807.89 581.8L1808.68 580.6L1809.47 578.6L1810 576.3L1810.79 570L1811.82 555.9L1812.21 553.3L1812.61 555.9L1813.79 571.7L1814.32 575.7L1814.84 578.2L1815.63 580.4L1816.84 582.1L1818.16 582.9L1820.26 583.6L1822.89 583.9L1826.58 584.1L1840.79 584.3L1923.16 584.3L1937.58 584.1L1941.84 583.7L1943.16 583.3L1944.21 582.8L1945.58 581.5L1947.47 577.9L1948.11 577.3L1948.68 577.8L1950 580.5L1951.05 582L1952.11 582.9L1953.68 583.5L1956.58 584L1960 583.8L1963.68 583.3L1966.32 582.4L1968.16 581.1L1969.47 579.2L1970.53 576.1L1971.32 571.6L1971.84 566.3L1972.37 556.6L1973.05 526.7L1973.42 486.3L1973.79 388.2L1974.23 5L1974.82 5L1975.12 308.8L1975.71 497.1L1976.05 530.4L1976.74 557.9L1977.11 564.8L1977.63 570.8L1978.21 574.7L1978.95 577.6L1979.47 579L1980.26 580.4L1981.32 581.5L1982.37 582.2L1983.68 582.8L1985.26 583.2L1989.74 583.8L1991.05 583.5L1992.11 582.9L1994.11 580.9L1994.74 580.6L1995.37 580.9L1997.26 582.8L1998.68 583.6L2001.32 584L2005.53 584.3L2068.95 584.4L2093.95 584.3L2098.16 584.1L2101.05 583.8L2102.89 583.4L2105.37 582.5L2106.32 582.3L2107.11 582.4L2110.79 583.7L2115.79 584.2L2126.58 584.4L2157.89 584.4" transform="scale(0.95 1)" fill="none" stroke="#0068E0" stroke-width="6.6" stroke-linejoin="round" stroke-linecap="butt"/>
<path d="M36.08 907.2L198.2 907.2L206.7 907L208.51 906.9L209.54 906.6L210.05 906.3L210.57 905.7L211.08 904.3L211.34 902.8L211.7 897.5L212.06 876.3L212.37 831.8L212.78 886L213.2 900.5L213.45 903.2L213.66 903.2L213.71 902.8L214.07 897.5L214.23 892.1L214.74 831.8L215.15 886L215.46 898.7L215.77 902.8L216.29 905.2L217.01 906.2L217.78 906.7L218.56 906.9L221.91 907.1L230.67 907.2L339.43 907.2L345.46 907L346.39 906.6L346.91 906L347.42 903.6L347.68 899.1L348.04 883.1L348.56 902.4L348.87 905.1L349.38 906.3L350 905.6L350.41 904.1L350.72 901.2L350.93 896.6L351.44 854.3L351.96 896.6L352.16 901.2L352.47 904.1L352.84 905.4L353.35 906.3L353.51 906.3L353.61 906.2L354.02 905.1L354.33 902.4L354.85 883.1L355.41 903.1L355.88 905.8L356.39 906.5L356.96 906.8L358.76 907.1L362.63 907.2L422.68 907.2L427.63 907.1L429.64 906.7L430.21 906.3L430.72 905.1L431.19 901.2L431.75 872.3L432.27 900.2L432.58 904.1L432.89 905.5L433.04 905.9L433.25 905.9L433.66 904.9L434.02 903L434.43 895.4L434.95 848.3L435.36 890.7L435.82 902.5L436.24 904.9L436.6 905.8L436.86 905.9L437.32 904.1L437.53 902L437.84 892.9L438.14 872.3L438.45 892.9L438.81 902.7L439.07 904.7L439.43 905.9L439.95 906.5L440.72 906.9L442.53 907.1L446.91 907.2L579.12 907.2L626.29 907L629.64 906.7L631.7 906.2L632.99 905.3L634.64 903.4L635.26 903.1L635.82 903.4L637.11 904.9L638.14 905.8L639.38 906.4L640.72 906.7L645.88 906.4L649.74 905.9L652.84 905.3L655.15 904.3L655.41 904.1L655.67 903.5L656.19 901.3L656.65 897.4L656.91 893.2L657.22 883.7L657.53 860.4L657.89 758.5L658.2 544.3L658.76 845.1L659.18 883.7L659.54 894.3L659.79 898L660 898.9L660.36 898.1L660.57 896.3L660.77 891L661.13 866.4L661.65 703.3L661.96 823.6L662.06 824.3L662.11 822.5L662.22 798L662.58 560L662.89 60.1L663.3 669.3L663.66 822.5L663.71 824.3L667.78 824.3L668.35 429.3L668.87 811.6L669.02 824.3L669.9 824.3L670 823.6L670.26 711.1L670.33 704.6L670.41 725.8L670.67 544.3L670.98 758.5L671.34 860.4L671.86 890.8L672.22 897.4L672.94 902.6L673.2 903.4L674.23 904.1L675.77 904.8L677.58 905.4L681.96 906.2L688.14 906.6L689.07 906.4L689.95 905.9L690.72 905.1L691.75 903.6L692.16 903.3L692.53 903.5L693.81 905.4L694.59 906.1L695.62 906.5L697.11 906.9L717.01 907.1L719.07 906.9L720.36 906.6L721.13 905.9L721.65 904.9L722.58 901.5L723.51 904.9L724.12 906.1L725.05 906.7L726.8 907L735.57 907.1L766.24 907.1L770.36 906.7L771.44 906.3L772.16 905.7L772.68 904.8L772.99 903.7L773.45 900.3L773.97 885.2L774.54 778.6L774.95 871.1L775.36 895.8L775.77 901.9L776.39 904.8L776.8 905.6L777.63 906.3L778.45 905.9L779.12 905.1L779.9 902.8L780.41 898.2L780.93 880L781.19 845.1L781.55 723.3L782.06 870.4L782.16 873L782.37 837L782.68 736L782.99 837L783.35 885.1L783.61 894.9L783.97 900.6L784.54 904L785.15 905.4L785.77 906L786.6 906.5L787.37 905.7L787.99 904.1L788.45 900L788.92 879.9L789.28 826.3L789.79 891L790.1 900L790.57 904.1L790.82 905L791.34 906L792.01 906.5L792.78 906.8L796.91 907.1L801.8 906.9L803.61 906.6L804.9 905.9L805.67 904.6L806.19 902.5L806.6 898.3L806.8 893.7L807.11 876.9L807.63 755.7L807.99 856L808.25 884.8L808.51 895.1L808.87 900.9L809.38 904L809.54 904.1L809.9 902.5L810.31 898.6L810.57 893.3L810.93 872.3L811.44 732.5L811.75 835.6L812.11 884.7L812.63 899.3L813.14 903.3L813.92 905.3L814.54 906L814.95 906.3L815.15 906.2L815.72 905.7L816.24 904.7L816.75 902.4L817.27 894.8L817.63 872.4L818.04 783.4L818.56 882.4L818.87 896.2L819.33 902.3L819.64 897.4L819.9 885.8L820.31 830.9L820.88 894.1L821.34 902.7L821.65 904.5L822.16 905.8L822.68 906.3L823.45 906.7L823.81 906.7L824.48 906.2L825.1 905.2L825.57 902.5L826.03 889.3L826.39 854.1L826.91 896.6L827.32 903.4L827.68 905.2L828.09 906L828.61 906.5L829.38 906.8L832.22 907.1L854.9 907L857.47 906.8L859.02 906.4L860.05 905.6L860.57 904.6L861.08 902.1L861.34 899.4L861.6 894L861.86 880.8L862.35 776.6L862.63 820.7L862.89 734.2L863.4 872.6L863.81 894.8L864.18 900.5L864.69 903.7L865.1 901.5L865.46 896.6L865.88 877.6L866.39 759.2L866.91 877.6L867.27 895.4L867.53 899.9L867.94 903.2L868.4 897.6L868.66 886.4L869.07 833L869.59 892.4L869.9 900.6L870.36 904.3L870.52 904.3L870.82 902L871.13 895.6L871.65 849.1L872.16 895.6L872.47 902L872.94 905L873.3 905.8L873.97 906.5L875.26 906.9L877.84 907.1L879.9 907L880.67 906.8L881.34 906.5L882.58 904.7L883.81 906.5L884.54 906.9L885.31 907L898.97 906.9L903.35 906.6L906.19 906.1L908.25 905.3L909.54 904.3L910.31 903.3L910.82 902.3L911.75 899L912.42 894.3L912.89 888.1L913.3 877.9L913.61 864L914.02 822.8L914.48 646.4L914.85 5L915.15 5L915.46 599.7L915.67 739.2L916.03 830.5L916.49 869.6L916.8 881.1L917.27 890.6L917.84 896.5L918.56 900.4L919.59 903.1L920.36 904.2L921.13 904.9L922.16 905.5L923.45 906L927.32 906.6L933.76 907L943.81 907.1L945.36 907L946.39 906.7L947.01 906.2L947.94 904.7L948.97 906.3L950 906.9L954.9 906.6L957.73 905.9L959.54 904.9L961.08 903.2L962.89 899.9L963.61 899.3L963.92 899.4L964.38 900L966.49 903.7L967.73 905L968.76 905.6L969.85 906L972.68 906.6L976.29 906.9L981.7 907L1022.68 907L1023.97 906.9L1024.74 906.6L1025.57 905.8L1026.03 904.4L1026.55 898.3L1027.11 855L1027.63 896.8L1027.94 902.6L1028.14 904.1L1028.66 905.7L1029.23 904.2L1029.64 901L1030 891.6L1030.52 829.3L1030.93 885.3L1031.34 900.3L1031.75 903.7L1032.06 900.5L1032.27 895.4L1032.78 848.3L1033.14 887.3L1033.4 897.7L1033.81 873.3L1034.33 900.4L1034.79 905L1035.1 905.9L1035.67 906.6L1037.11 907L1120.88 906.8L1127.06 906.7L1135.05 906.3L1140.46 905.6L1144.33 904.5L1145.88 903.7L1147.16 902.8L1148.71 901.2L1150 899L1151.03 896.3L1151.8 893.3L1152.47 889.6L1153.09 884.8L1154.12 871.6L1154.9 853.3L1155.57 826.2L1156.96 725.8L1157.22 713L1157.42 709.5L1157.89 725.8L1158.87 801.5L1159.54 838.3L1160.31 863.1L1160.82 873.3L1161.44 881.7L1162.11 887.8L1163.14 893.7L1164.18 897.3L1165.72 900.6L1167.01 902.2L1168.3 903.3L1169.85 904.2L1171.91 905L1172.16 905L1173.71 904.4L1175.52 903.2L1177.32 901.3L1178.87 898.2L1180.15 893.8L1181.19 887.9L1181.44 865.4L1181.75 805.3L1182.16 878.6L1184.12 855.4L1184.64 699.3L1185.15 855.4L1186.96 877.4L1187.11 879.2L1187.22 878.6L1187.63 805.3L1188.14 886.8L1188.3 889.3L1188.92 892.8L1190.21 897.7L1190.98 899.6L1192.01 901.3L1192.78 902.3L1194.33 900.6L1195.36 898.8L1196.13 897.1L1197.53 892.5L1198.71 886.2L1199.74 877.9L1200.31 872L1200.72 782L1201.03 855.9L1201.13 862.9L1201.29 861.3L1201.75 828.7L1202.35 753.2L1202.58 739.3L1203.81 860L1204.02 862.9L1204.12 855.9L1204.43 782L1204.85 872L1205.15 875.4L1205.46 829.8L1205.88 882L1206.49 886.5L1207.22 890.6L1208.25 894.8L1209.28 897.7L1210.57 900.2L1210.82 900.6L1211.08 900.6L1211.86 897.6L1212.99 892.1L1213.4 890.9L1213.66 890.7L1214.23 892.1L1215.98 900.1L1216.49 901.6L1217.27 903.2L1218.3 902.8L1220.1 901.8L1222.42 899.7L1223.45 898.4L1224.48 896.8L1226.03 893.3L1227.32 889L1228.61 882.4L1229.64 874.7L1230.67 863.2L1231.96 841.1L1234 788.7L1234.64 777.3L1235.15 382.5L1235.46 692.2L1235.57 759.8L1235.67 759.7L1235.98 540.9L1236.24 5L1236.55 5L1236.86 599.7L1237.06 739.2L1237.37 822.6L1238.4 846.4L1239.48 863.9L1239.69 860.7L1239.95 837.2L1240.21 791.2L1240.62 540.9L1240.88 5L1241.19 5L1241.55 646.4L1241.96 813.8L1242.27 853L1242.58 872L1242.78 873.3L1246.29 873.3L1246.39 866.3L1246.7 805.6L1247.11 545.5L1247.53 805.6L1247.94 873.3L1251.65 873.3L1251.8 867.6L1252.27 767.6L1252.68 410.1L1253.09 767.6L1253.3 833.7L1253.61 868.1L1253.97 821.6L1254.23 720.7L1254.64 243.3L1255.05 720.7L1255.41 840.8L1255.77 737.6L1256.19 303.3L1256.6 737.6L1256.8 817.9L1257.11 863.9L1257.42 810.3L1257.73 865.9L1258.25 864L1258.71 863.3L1259.07 863.5L1259.48 864.6L1260.31 868.7L1262.63 883.8L1264.18 891.1L1264.43 891.7L1264.95 888.1L1265.21 887.3L1265.36 887.4L1265.72 888.9L1267.01 898.4L1268.04 900L1269.07 901.1L1270.88 902.6L1272.94 903.8L1275.52 904.7L1278.35 905.3L1296.19 904.6L1310.82 903.7L1325.52 902.2L1331.7 901.3L1337.11 900.3L1342.01 899.2L1346.65 897.8L1350.77 896.3L1354.64 894.5L1357.73 892.8L1360.82 890.8L1363.4 888.7L1365.98 886.3L1368.3 883.8L1370.62 880.9L1372.94 877.4L1375 873.9L1378.35 867L1381.7 858.5L1384.28 850.9L1389.69 833.4L1392.01 826.6L1393.81 822.3L1394.85 820.5L1395.62 819.5L1396.91 818.5L1397.63 818.3L1398.2 818.4L1399.48 819.3L1400.77 821.1L1402.06 823.6L1403.35 826.9L1407.22 838.7L1410.31 829.5L1410.62 766.3L1410.82 821.3L1410.93 813.8L1411.29 683.9L1411.7 5L1412.01 5L1412.37 646.4L1412.63 776.8L1412.89 821.8L1413.4 820.3L1414.95 820.3L1415.15 791.2L1415.57 540.9L1415.82 5L1416.13 5L1416.39 540.9L1416.8 791.2L1417.01 820.3L1419.33 820.3L1419.64 739.2L1419.85 599.7L1420.15 5L1420.46 5L1420.72 540.9L1420.98 739.2L1421.39 837.2L1421.86 872L1422.16 877.2L1425.52 882L1429.12 886.2L1433.25 889.9L1437.63 892.9L1442.53 895.4L1448.2 897.7L1454.38 899.5L1461.6 901L1467.27 901.9L1473.71 902.7L1488.51 904L1488.76 902.2L1489.18 889.3L1489.69 903.6L1489.85 904.1L1491.34 904.2L1491.6 901.8L1491.86 895.5L1492.27 865.6L1492.68 895.5L1492.94 901.8L1493.3 904.3L1494.64 904.4L1494.85 903.2L1495.1 898.1L1495.46 880.2L1495.88 899.6L1496.29 904.5L1511.86 905.2L1513.92 904.4L1515.72 903.4L1517.27 902.1L1518.56 900.5L1519.59 898.7L1520.62 896.4L1523.71 886.8L1524.23 885.8L1524.74 885.5L1525.26 885.8L1525.77 886.8L1528.61 895.7L1529.64 898.2L1530.67 900.1L1531.7 901.6L1532.73 902.6L1532.99 902.7L1533.25 902.4L1534.54 900.9L1535.57 899.2L1536.6 896.8L1537.37 894.2L1538.14 890.8L1539.43 882.5L1541.34 865.5L1541.75 862.9L1542.01 862L1542.27 861.7L1542.53 862L1542.78 862.9L1543.2 865.5L1545.1 882.5L1546.39 890.8L1547.16 894.2L1547.94 896.8L1548.87 899L1549.79 900.6L1550.1 898.4L1550.52 889.2L1551.13 863.3L1552.06 896.8L1552.58 902.2L1552.78 902.6L1553.35 901.1L1554.12 897.6L1554.64 893.2L1555.15 885L1555.46 876.1L1555.93 848.4L1556.29 791.2L1556.7 540.9L1556.96 5L1557.27 5L1557.53 540.9L1557.94 791.2L1558.25 843.2L1558.76 875.9L1559.02 874.1L1559.18 866.9L1559.54 837.2L1559.95 739.2L1560.1 646.4L1560.46 5L1560.77 5L1561.24 714.3L1561.6 822.8L1561.91 857.1L1562.27 875.9L1566.49 875.9L1566.91 867.2L1567.42 851.1L1567.94 825.3L1569.1 723.9L1569.48 707.4L1569.85 721.9L1571.13 831.5L1571.65 854.9L1572.42 875L1573.45 888.1L1573.97 892L1574.74 895.9L1575.77 899.1L1576.8 901.2L1578.14 902.9L1580 904.2L1580.41 904.5L1580.62 904.3L1581.19 903.1L1582.63 897.7L1583.09 896.8L1583.51 897.5L1584.54 901.6L1585.31 903.8L1586.34 905.3L1587.89 906.2L1590.82 906.5L1606.7 906.6L1610.57 906.3L1613.71 905.7L1616.24 904.9L1618.14 903.8L1619.59 902.4L1621.13 899.8L1622.42 896.2L1623.3 865.9L1623.92 889.6L1625.46 882.9L1626.08 848L1626.8 885.7L1627.53 888.9L1628.14 862.5L1628.97 894.6L1629.18 896.4L1630.67 900.4L1631.96 902.4L1633.76 904.1L1635.82 905.1L1638.66 905.9L1639.95 905.3L1640.98 904.6L1642.01 903.6L1643.71 901.5L1644.33 901.1L1644.85 901L1645.36 901.3L1647.42 903.8L1648.35 904.6L1650.52 903.4L1652.06 901.8L1653.09 900.2L1653.87 898.5L1655.15 894.1L1656.19 887.7L1656.96 879.7L1657.99 860.8L1659.55 809.4L1659.79 803.5L1660.1 800.6L1660.31 801.9L1660.66 809.4L1662.37 864.5L1663.07 877.3L1663.92 886.8L1664.43 890.7L1665.21 894.8L1665.98 897.5L1666.75 899.5L1667.78 901.3L1669.07 902.8L1670.36 903.8L1672.16 904.7L1672.68 904.9L1672.94 904.8L1675.46 902.2L1676.29 901.8L1676.8 901.9L1677.32 902.2L1679.12 904.2L1680.15 905L1681.44 905.7L1682.99 906.2L1684.54 905.8L1685.82 905.2L1686.86 904.4L1687.63 903.5L1688.4 902L1688.92 900.5L1689.79 896.3L1690.46 890.6L1691.6 875.6L1691.86 873.4L1692.06 872.8L1692.27 873.4L1692.53 875.6L1693.56 889.4L1694.33 896L1695.1 889.2L1695.62 881.2L1696.93 841.9L1697.32 836L1697.68 841.2L1698.87 878L1699.38 887.2L1700 893.8L1700.77 898.5L1701.34 900.6L1702.06 902.3L1702.84 903.5L1703.76 904.5L1704.9 905.2L1706.44 905.8L1708.25 906.2L1710.82 906.6L1718.56 906.9L1759.02 907L1763.14 906.7L1765.46 906.2L1766.75 905.4L1767.53 904.4L1768.04 903.3L1768.56 901.5L1769.28 896.5L1770.21 883.2L1770.52 881L1770.82 883.2L1771.75 896.5L1772.16 899.8L1772.68 902.4L1773.45 904.3L1774.23 905.3L1775.52 906.1L1777.58 906.7L1782.89 907L1897.16 907.1L1900.77 906.8L1902.89 906.3L1904.12 905.4L1905.52 903.1L1905.98 902.7L1906.44 903.1L1907.73 905.2L1908.45 905.9L1909.79 906.6L1911.6 906.9L1915.46 907L1922.16 906.6L1924.54 906L1925.26 905.6L1926.03 904.9L1926.6 903.9L1927.06 902.7L1927.58 900.3L1928.09 895.1L1928.35 890.1L1928.76 872L1929.07 830.5L1929.38 646.4L1929.6 5L1929.78 5L1929.94 540.9L1930.19 791.2L1930.41 850L1930.67 875.5L1931.19 893.4L1931.55 898.2L1931.96 901.2L1932.47 903.2L1932.99 904.3L1933.76 905.3L1935.05 906.1L1936.6 906.5L1938.92 906.8L1947.16 907.1L2020.62 907.1L2113.4 903.2" transform="scale(0.97 1)" fill="none" stroke="#00AE66" stroke-width="6.6" stroke-linejoin="round" stroke-linecap="butt"/>
</g>
<rect x="1506.0" y="0.0" width="588.0" height="568.0" fill="#fff"/>
<rect x="1270.0" y="1262.0" width="824.0" height="262.8" fill="#fff"/>
<g stroke="#000" stroke-width="6" fill="none">
<path d="M32.3 1666.2H2052.1" stroke-linecap="butt"/>
<path d="M35.3 1666.2V1681.3M123.2 1666.2V1697.4M210.8 1666.2V1681.3M298.3 1666.2V1697.4M385.9 1666.2V1681.3M473.5 1666.2V1697.4M561.1 1666.2V1681.3M648.7 1666.2V1697.4M736.2 1666.2V1681.3M823.8 1666.2V1697.4M911.4 1666.2V1681.3M999.0 1666.2V1697.4M1086.5 1666.2V1681.3M1174.1 1666.2V1697.4M1261.7 1666.2V1681.3M1349.2 1666.2V1697.4M1436.8 1666.2V1681.3M1524.4 1666.2V1697.4M1612.0 1666.2V1681.3M1699.5 1666.2V1697.4M1787.1 1666.2V1681.3M1874.7 1666.2V1697.4M1962.3 1666.2V1681.3M2049.1 1666.2V1697.4" stroke-linecap="round"/>
</g>
<g font-size="69.5" text-anchor="middle">
<text x="123.2" y="1772.5">10</text>
<text x="298.3" y="1772.5">9</text>
<text x="473.5" y="1772.5">8</text>
<text x="648.7" y="1772.5">7</text>
<text x="823.8" y="1772.5">6</text>
<text x="999.0" y="1772.5">5</text>
<text x="1174.1" y="1772.5">4</text>
<text x="1349.2" y="1772.5">3</text>
<text x="1524.4" y="1772.5">2</text>
<text x="1699.5" y="1772.5">1</text>
<text x="1874.7" y="1772.5">0</text>
<text x="2049.8" y="1772.5">-1</text>
</g>
<defs><clipPath id="ct"><rect x="900" y="1800" width="500" height="114"/></clipPath></defs>
<g clip-path="url(#ct)"><text font-size="86"><tspan class="s" x="1008.3" y="1897.8">δ</tspan><tspan x="1048.0" y="1897.5" font-size="85.2"> /ppm</tspan></text></g>
<clipPath id="cl0"><rect x="0" y="1475.0" width="300" height="77.0"/></clipPath>
<g clip-path="url(#cl0)"><text transform="translate(37.86 1535.30) scale(0.8573 0.8600)" font-size="100">(a)</text></g>
<clipPath id="cl1"><rect x="0" y="1132.9" width="300" height="76.9"/></clipPath>
<g clip-path="url(#cl1)"><text transform="translate(38.68 1192.50) scale(0.8527 0.8600)" font-size="100">(b)</text></g>
<clipPath id="cl2"><rect x="0" y="820.6" width="300" height="77.3"/></clipPath>
<g clip-path="url(#cl2)"><text transform="translate(38.63 880.50) scale(0.8612 0.8600)" font-size="100">(c)</text></g>
<clipPath id="cl3"><rect x="0" y="496.8" width="300" height="76.9"/></clipPath>
<g clip-path="url(#cl3)"><text transform="translate(41.57 557.90) scale(0.8709 0.8600)" font-size="100">(d)</text></g>
<text transform="translate(200.98 807.03) scale(0.7111 0.6032)" font-size="100">j</text>
<text transform="translate(316.88 834.80) scale(0.6421 0.6093)" font-size="100">m</text>
<text transform="translate(415.96 828.00) scale(0.6368 0.6069)" font-size="100">k</text>
<text transform="translate(991.53 805.90) scale(0.7333 0.6069)" font-size="100">i</text>
<text transform="translate(315.04 1102.60) scale(0.6400 0.6019)" font-size="100">m</text>
<text transform="translate(412.04 1137.80) scale(0.6092 0.6041)" font-size="100">k</text>
<text transform="translate(181.98 1427.14) scale(0.7111 0.6075)" font-size="100">j</text>
<text transform="translate(310.75 1473.40) scale(0.6229 0.5963)" font-size="100">m</text>
<text transform="translate(414.34 1451.80) scale(0.6092 0.6014)" font-size="100">k</text>
<text transform="translate(978.29 1412.80) scale(0.7556 0.6055)" font-size="100">i</text>
<path d="M155.40 694.85H245.55" fill="none" stroke="#FF0000" stroke-width="5.9" stroke-linecap="round" stroke-dasharray="9.20 16.50" stroke-dashoffset="0.00"/>
<path d="M245.55 694.85V1604.80" fill="none" stroke="#FF0000" stroke-width="7.0" stroke-linecap="round" stroke-dasharray="9.00 16.70" stroke-dashoffset="13.05"/>
<path d="M245.55 1604.80H155.40" fill="none" stroke="#FF0000" stroke-width="5.9" stroke-linecap="round" stroke-dasharray="9.20 16.50" stroke-dashoffset="23.50"/>
<path d="M155.40 694.85V1604.80" fill="none" stroke="#FF0000" stroke-width="7.0" stroke-linecap="round" stroke-dasharray="9.00 16.70" stroke-dashoffset="0.00"/>
<path d="M948.00 685.40H1037.97" fill="none" stroke="#FF0000" stroke-width="6.7" stroke-linecap="round" stroke-dasharray="8.40 17.30" stroke-dashoffset="0.00"/>
<path d="M1037.97 685.40V1595.40" fill="none" stroke="#FF0000" stroke-width="6.2" stroke-linecap="round" stroke-dasharray="7.70 18.00" stroke-dashoffset="12.87"/>
<path d="M1037.97 1595.40H948.00" fill="none" stroke="#FF0000" stroke-width="6.7" stroke-linecap="round" stroke-dasharray="8.40 17.30" stroke-dashoffset="23.37"/>
<path d="M948.00 685.40V1595.40" fill="none" stroke="#FF0000" stroke-width="6.2" stroke-linecap="round" stroke-dasharray="7.70 18.00" stroke-dashoffset="0.00"/>
<path d="M326.9 1035.7L332.9 987.6" stroke="#000" stroke-width="6.4" stroke-linecap="round" fill="none"/>
<path d="M338.6 948.5L322.2 984.4L343.7 987.9Z" fill="#000" stroke="#000" stroke-width="4" stroke-linejoin="round"/>
<path d="M436.4 1046.3L427.9 982.6" stroke="#000" stroke-width="6.4" stroke-linecap="round" fill="none"/>
<path d="M422.4 943.6L417.2 982.4L438.6 979.9Z" fill="#000" stroke="#000" stroke-width="4" stroke-linejoin="round"/>
<path d="M340.1 1411.5L327.1 1300.3" stroke="#000" stroke-width="6.4" stroke-linecap="round" fill="none"/>
<path d="M321.4 1260.5L316.3 1300.1L337.9 1297.6Z" fill="#000" stroke="#000" stroke-width="4" stroke-linejoin="round"/>
<path d="M424.3 1371.5L433.9 1302.7" stroke="#000" stroke-width="6.4" stroke-linecap="round" fill="none"/>
<path d="M439.2 1262.5L423.1 1299.6L444.7 1302.7Z" fill="#000" stroke="#000" stroke-width="4" stroke-linejoin="round"/>
<path d="M1423.7 1323.0L1423.7 1361.5M1342.2 1369.0L1376.2 1387.9M1376.2 1387.9L1423.7 1361.5M1386.5 1393.5L1423.7 1372.0M1376.2 1387.9L1376.2 1428.6M1423.7 1361.5L1472.0 1387.9M1467.5 1387.9L1467.5 1429.4M1477.0 1387.9L1477.0 1429.4M1472.0 1387.9L1504.5 1369.8M1838.2 1378.7L1806.5 1360.0M1869.6 1379.4L1903.0 1360.0M1903.0 1372.1L1940.3 1393.5M1903.0 1459.0L1940.3 1437.9M1864.5 1404.8L1864.5 1436.8" stroke="#000" stroke-width="2.8" fill="none" stroke-linecap="round"/>
<path d="M1535.2 1369.6L1567.6 1388.2L1615.2 1360.0L1663.1 1388.2L1711.3 1360.0L1758.9 1388.2L1806.5 1360.0" stroke="#000" stroke-width="2.8" fill="none" stroke-linejoin="round" stroke-linecap="round"/>
<path d="M1903.0 1360.0L1950.4 1387.5L1950.4 1443.8L1903.0 1471.0L1854.1 1443.8L1854.1 1404.8" stroke="#000" stroke-width="2.8" fill="none" stroke-linejoin="round" stroke-linecap="round"/>
<g stroke="#000" stroke-width="2.2" fill="none"><circle cx="1855.1" cy="1343.8" r="14.6"/><path d="M1847.6 1343.8H1862.6M1855.1 1336.3V1351.3" stroke-width="2.8"/><circle cx="1823" cy="1411.1" r="14"/><path d="M1815 1411.1H1831" stroke-width="2.8"/></g>
<text class="b" transform="translate(1377.44 1319.11) scale(0.3547 0.3891)" font-size="100">a</text>
<text class="b" transform="translate(1408.88 1319.50) scale(0.3881 0.4043)" font-size="100">H</text>
<text class="b" transform="translate(1277.88 1375.01) scale(0.3881 0.3946)" font-size="100">b</text>
<text class="b" transform="translate(1314.11 1374.30) scale(0.3831 0.4043)" font-size="100">H</text>
<text class="b" transform="translate(1329.02 1462.22) scale(0.3959 0.3836)" font-size="100">c</text>
<text class="b" transform="translate(1362.45 1458.10) scale(0.3763 0.4159)" font-size="100">H</text>
<text class="b" transform="translate(1455.82 1458.09) scale(0.3942 0.4099)" font-size="100">O</text>
<text class="b" transform="translate(1504.37 1374.40) scale(0.3813 0.4014)" font-size="100">O</text>
<text class="b" transform="translate(1557.37 1434.02) scale(0.3822 0.3837)" font-size="100">d</text>
<text class="b" transform="translate(1600.52 1345.92) scale(0.3958 0.3836)" font-size="100">e</text>
<text class="b" transform="translate(1653.17 1432.30) scale(0.4219 0.3931)" font-size="100">f</text>
<text class="b" transform="translate(1702.24 1345.37) scale(0.4158 0.3735)" font-size="100">g</text>
<text class="b" transform="translate(1754.43 1430.40) scale(0.3667 0.3821)" font-size="100">h</text>
<text class="b" transform="translate(1796.78 1346.30) scale(0.4741 0.3972)" font-size="100">i</text>
<text class="b" transform="translate(1883.17 1347.50) scale(0.4500 0.3807)" font-size="100">j</text>
<text class="b" transform="translate(1840.64 1402.30) scale(0.3780 0.4087)" font-size="100">N</text>
<text class="b" transform="translate(1962.83 1392.10) scale(0.3670 0.3890)" font-size="100">k</text>
<text class="b" transform="translate(1963.33 1460.40) scale(0.3947 0.4037)" font-size="100">m</text>
<text class="b" transform="translate(1787.39 1459.00) scale(0.3864 0.4014)" font-size="100">Br</text>
<path d="M1595.5 49.7L1584.6 69.0M1555.4 70.1L1584.6 70.1M1584.6 69.8L1602.8 102.0M1579.6 76.6L1594.7 102.0M1602.8 102.0L1631.5 102.0M1602.8 102.3L1585.4 134.1M1557.8 131.4L1585.4 131.4M1557.8 138.3L1585.4 138.3M1585.4 134.9L1597.8 157.1M1592.4 394.9L1607.0 369.7M1637.0 369.7L1652.4 394.9M1607.5 421.1L1636.7 421.1M1590.8 340.9L1603.0 362.4M1659.4 395.2L1687.3 395.2M1738.9 395.2L1765.1 395.2M1641.6 427.6L1654.0 450.0M1654.0 471.1L1641.9 493.5M1787.1 369.2L1817.6 369.2M1771.8 396.5L1786.4 420.0M1832.5 396.5L1817.6 420.0M1770.0 340.9L1782.7 362.4M1770.0 319.5L1783.2 297.2M1821.6 427.6L1834.6 450.0M1833.8 471.1L1821.6 493.5M1839.5 395.2L1867.0 395.2M1918.1 395.2L1982.2 395.2" stroke="#000" stroke-width="1.9" fill="none" stroke-linecap="round"/>
<path d="M1596.7 179.2L1584.1 199.6L1603.2 232.2L1584.1 264.7L1603.2 297.3L1590.8 318.6" stroke="#000" stroke-width="1.9" fill="none" stroke-linejoin="round" stroke-linecap="round"/>
<path d="M1603.0 362.4L1641.6 362.4L1659.4 395.2L1641.6 427.3L1603.0 427.3L1585.1 395.2Z" stroke="#000" stroke-width="1.9" fill="none" stroke-linejoin="round" stroke-linecap="round"/>
<path d="M1782.7 362.4L1821.6 362.4L1839.5 395.2L1821.6 427.3L1782.7 427.3L1765.2 395.2Z" stroke="#000" stroke-width="1.9" fill="none" stroke-linejoin="round" stroke-linecap="round"/>
<path d="M1585.1 395.2L1546.2 395.2L1546.2 549.2L1982.2 549.2" stroke="#000" stroke-width="1.6" fill="none" stroke-linejoin="round" stroke-linecap="round"/>
<path d="M1982.2 394.5V550" stroke="#000" stroke-width="3" fill="none"/>
<path d="M1745.7 370.5H1741.7V426.5H1745.7M1930.8 370.5H1934.7V426.5H1930.8" stroke="#000" stroke-width="1.4" fill="none"/>
<text class="b" transform="translate(1593.17 46.60) scale(0.2661 0.2667)" font-size="100">H</text>
<text class="b" transform="translate(1620.68 40.70) scale(0.1570 0.1928)" font-size="100">1</text>
<text class="b" transform="translate(1510.11 72.00) scale(0.2271 0.1900)" font-size="100">2</text>
<text class="b" transform="translate(1536.25 79.20) scale(0.2695 0.2725)" font-size="100">H</text>
<text transform="translate(1631.40 111.10) scale(0.2625 0.2638)" font-size="100">H</text>
<text class="b" transform="translate(1656.74 108.91) scale(0.1838 0.1915)" font-size="100">3</text>
<text class="b" transform="translate(1535.41 143.34) scale(0.2719 0.2620)" font-size="100">O</text>
<text class="b" transform="translate(1592.28 176.63) scale(0.2806 0.2718)" font-size="100">O</text>
<text class="b" transform="translate(1559.30 208.00) scale(0.1981 0.1928)" font-size="100">4</text>
<text class="b" transform="translate(1622.99 237.31) scale(0.2040 0.1943)" font-size="100">5</text>
<text class="b" transform="translate(1563.51 272.11) scale(0.1959 0.1873)" font-size="100">6</text>
<text class="b" transform="translate(1620.57 301.60) scale(0.2280 0.2043)" font-size="100">7</text>
<text class="b" transform="translate(1574.10 338.64) scale(0.2489 0.2577)" font-size="100">O</text>
<text class="b" transform="translate(1648.58 358.20) scale(0.2061 0.1986)" font-size="100">8</text>
<text class="b" transform="translate(1588.44 446.60) scale(0.2165 0.2000)" font-size="100">9</text>
<text class="b" transform="translate(1701.50 376.70) scale(0.1845 0.2014)" font-size="100">11</text>
<text class="b" transform="translate(1649.22 470.51) scale(0.2705 0.2930)" font-size="100">O</text>
<text class="b" transform="translate(1611.65 491.20) scale(0.2070 0.2014)" font-size="100">10</text>
<text class="b" transform="translate(1754.10 338.64) scale(0.2504 0.2577)" font-size="100">O</text>
<text class="b" transform="translate(1829.42 470.51) scale(0.2691 0.2930)" font-size="100">O</text>
<text class="b" transform="translate(1938.17 432.70) scale(0.1514 0.1681)" font-size="100">4</text>
<text class="b" transform="translate(1688.63 404.63) scale(0.2674 0.2732)" font-size="100">CH<tspan font-size="72" dy="19">2</tspan></text>
<text class="b" transform="translate(1868.43 404.63) scale(0.2667 0.2732)" font-size="100">CH<tspan font-size="72" dy="19">2</tspan></text>
</svg></body></html>
